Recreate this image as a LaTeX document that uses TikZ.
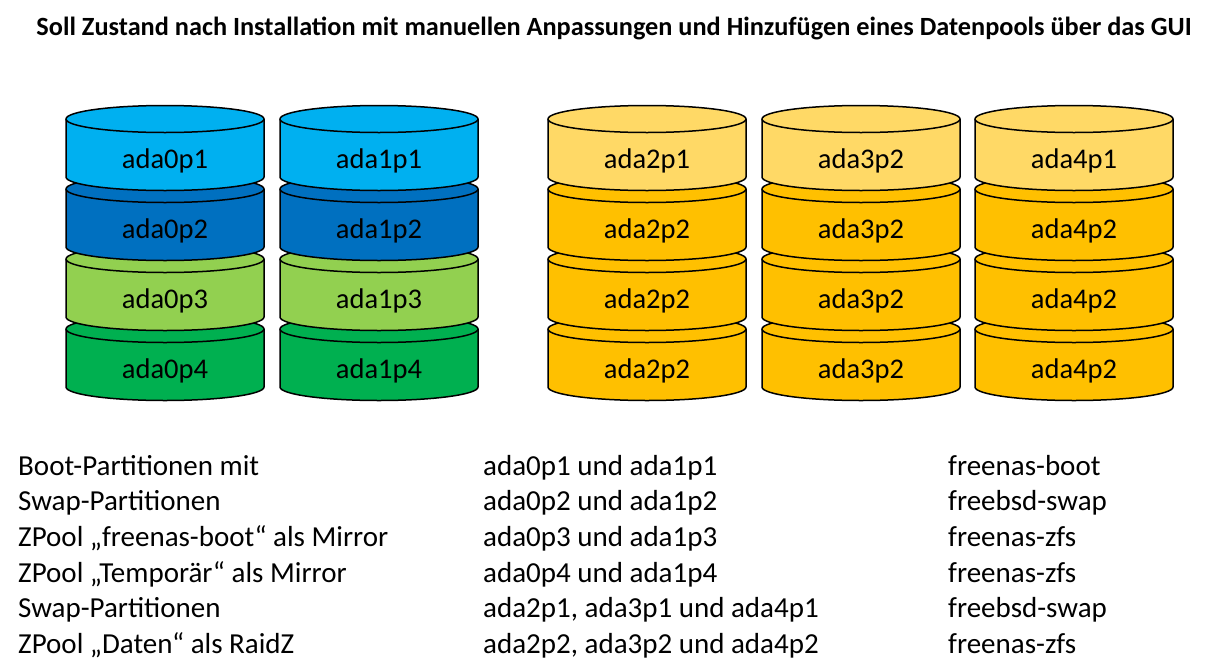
\documentclass[tikz,border=0pt]{standalone}
\usepackage{fontspec}
\setmainfont{Carlito}
\definecolor{lblue}{HTML}{00B0F0}
\definecolor{dblue}{HTML}{0070C0}
\definecolor{lgreen}{HTML}{92D050}
\definecolor{dgreen}{HTML}{00B050}
\definecolor{lyel}{HTML}{FFD966}
\definecolor{dyel}{HTML}{FFC000}
\newcommand{\myseg}[5]{% name, left x, top center y, color, label
  \pgfmathsetmacro{\xr}{#2+198}\pgfmathsetmacro{\yb}{#3+58}\pgfmathsetmacro{\xc}{#2+99}\pgfmathsetmacro{\yc}{#3+47}
  \draw[segline,fill=#4] (#2,#3) -- (#2,\yb) arc[start angle=180,end angle=0,x radius=99,y radius=13.5] -- (\xr,#3) arc[start angle=0,end angle=-180,x radius=99,y radius=13.5] -- cycle;
  \draw[segline] (#2,#3) arc[start angle=180,end angle=0,x radius=99,y radius=13.5];
  \node[seglabel] (#1) at (\xc,\yc) {#5};}
\begin{document}
\begin{tikzpicture}[x=1pt,y=-1pt,
  segline/.style={draw=black,line width=1.5pt,line join=round},
  seglabel/.style={font=\fontsize{28.5}{32}\selectfont,inner sep=0pt,text height=0.68em,text depth=0.22em},
  txt/.style={font=\fontsize{29}{32}\selectfont,anchor=west,inner sep=0pt,text height=0.68em,text depth=0.22em}]
\useasboundingbox (0,0) rectangle (1226,667);
\node[font=\bfseries\fontsize{26.3}{30}\selectfont,inner sep=0pt] (title) at (614,28) {Soll Zustand nach Installation mit manuellen Anpassungen und Hinzufügen eines Datenpools über das GUI};
% stacks
\foreach \x/\n in {66/0,280/1}{
  \myseg{s\n d}{\x}{329}{dgreen}{ada\n p4}
  \myseg{s\n c}{\x}{259}{lgreen}{ada\n p3}
  \myseg{s\n b}{\x}{189}{dblue}{ada\n p2}
  \myseg{s\n a}{\x}{119}{lblue}{ada\n p1}
}
\myseg{s2d}{548}{329}{dyel}{ada2p2}
\myseg{s2c}{548}{259}{dyel}{ada2p2}
\myseg{s2b}{548}{189}{dyel}{ada2p2}
\myseg{s2a}{548}{119}{lyel}{ada2p1}
\myseg{s3d}{762}{329}{dyel}{ada3p2}
\myseg{s3c}{762}{259}{dyel}{ada3p2}
\myseg{s3b}{762}{189}{dyel}{ada3p2}
\myseg{s3a}{762}{119}{lyel}{ada3p2}
\myseg{s4d}{975}{329}{dyel}{ada4p2}
\myseg{s4c}{975}{259}{dyel}{ada4p2}
\myseg{s4b}{975}{189}{dyel}{ada4p2}
\myseg{s4a}{975}{119}{lyel}{ada4p1}
% legend
\node[txt] (r1a) at (18,473) {Boot-Partitionen mit};
\node[txt] (r2a) at (18,508) {Swap-Partitionen};
\node[txt] (r3a) at (18,544) {ZPool „freenas-boot“ als Mirror};
\node[txt] (r4a) at (18,580) {ZPool „Temporär“ als Mirror};
\node[txt] (r5a) at (18,615) {Swap-Partitionen};
\node[txt] (r6a) at (18,651) {ZPool „Daten“ als RaidZ};
\node[txt] (r1b) at (483,473) {ada0p1 und ada1p1};
\node[txt] (r2b) at (483,508) {ada0p2 und ada1p2};
\node[txt] (r3b) at (483,544) {ada0p3 und ada1p3};
\node[txt] (r4b) at (483,580) {ada0p4 und ada1p4};
\node[txt] (r5b) at (483,615) {ada2p1, ada3p1 und ada4p1};
\node[txt] (r6b) at (483,651) {ada2p2, ada3p2 und ada4p2};
\node[txt] (r1c) at (948,473) {freenas-boot};
\node[txt] (r2c) at (948,508) {freebsd-swap};
\node[txt] (r3c) at (948,544) {freenas-zfs};
\node[txt] (r4c) at (948,580) {freenas-zfs};
\node[txt] (r5c) at (948,615) {freebsd-swap};
\node[txt] (r6c) at (948,651) {freenas-zfs};
\end{tikzpicture}
\end{document}
